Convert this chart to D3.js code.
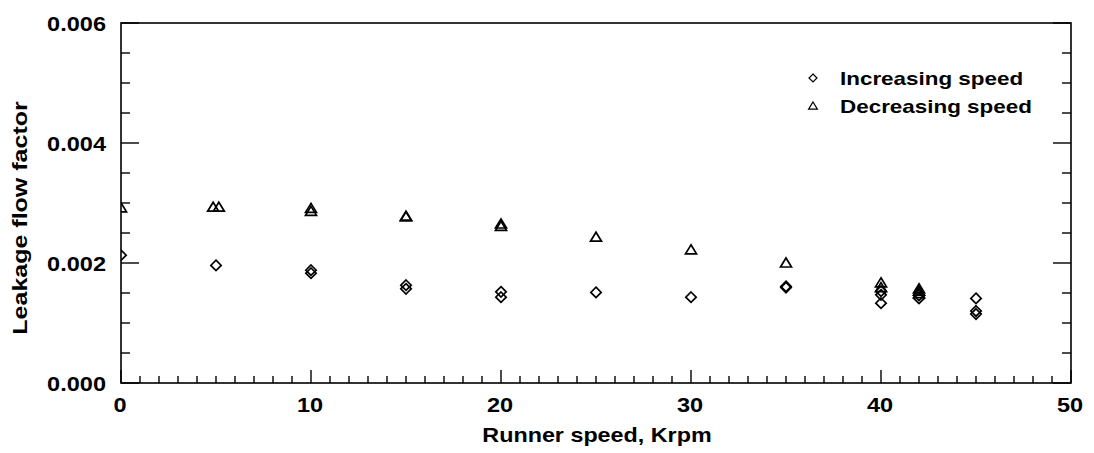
<!DOCTYPE html>
<html>
<head>
<meta charset="utf-8">
<script src="https://cdn.jsdelivr.net/npm/d3@7"></script>
<style>
  body { margin: 0; background: #fff; }
  text { font-family: "Liberation Sans", Arial, Helvetica, sans-serif; font-weight: bold; fill: #000; }
</style>
</head>
<body>
<script>
// increasing runner speed (diamonds)
var incSpeed  = [0, 5, 10, 10, 15, 15, 20, 20, 25, 30, 35, 35, 40, 40, 40, 42, 42, 45, 45, 45];
var incFactor = [0.00213, 0.00196, 0.00188, 0.00183, 0.00163, 0.00157, 0.00152, 0.00143, 0.00151, 0.00143,
                 0.00161, 0.00159, 0.00153, 0.00147, 0.00133, 0.00146, 0.00141, 0.00141, 0.00120, 0.00115];
// decreasing runner speed (triangles)
var decSpeed  = [0, 4.85, 5.15, 10, 10, 15, 15, 20, 20, 25, 30, 35, 40, 40, 42, 42, 42];
var decFactor = [0.00292, 0.00293, 0.00293, 0.00291, 0.00286, 0.00278, 0.00277, 0.00265, 0.00261,
                 0.00243, 0.00222, 0.00200, 0.00167, 0.00159, 0.00157, 0.00153, 0.00149];

var xTicks = [0, 10, 20, 30, 40, 50];
var yTicks = [0, 0.002, 0.004, 0.006];
var seriesNames = ["Increasing speed", "Decreasing speed"];

var width = 1094, height = 453;
var margin = {left: 121, right: 23, top: 23, bottom: 70};

var x = d3.scaleLinear().domain([0, 50]).range([margin.left, width - margin.right]);
var y = d3.scaleLinear().domain([0, 0.006]).range([height - margin.bottom, margin.top]);

var svg = d3.select("body").append("svg")
    .attr("width", width)
    .attr("height", height);

function stretch(sel, k) {
    sel.each(function() {
        var w = this.getComputedTextLength();
        d3.select(this).attr("textLength", w * k).attr("lengthAdjust", "spacingAndGlyphs");
    });
}

svg.append("clipPath").attr("id", "plot")
  .append("rect")
    .attr("x", x(0)).attr("y", y(0.006))
    .attr("width", x(50) - x(0)).attr("height", y(0) - y(0.006));

// inward ticks: left / right (major 18px, minor 9px), bottom (major 13px, minor 7px)
var yMinor = d3.range(0, 0.0060001, 0.0005);
var xMinor = d3.range(0, 51, 1);

var leftAxis = d3.axisLeft(y).tickValues(yMinor).tickFormat("")
    .tickSize(0);
svg.append("g").attr("transform", "translate(" + x(0) + ",0)").call(leftAxis)
    .call(function(g) { g.select(".domain").remove(); });

var ticks = svg.append("g").attr("stroke", "#000").attr("stroke-width", 1.4);
ticks.selectAll(".yl").data(yMinor).enter().append("line")
    .attr("x1", x(0)).attr("x2", function(d, i) { return x(0) + (i % 4 === 0 ? 18 : 9); })
    .attr("y1", function(d) { return y(d); }).attr("y2", function(d) { return y(d); });
ticks.selectAll(".yr").data(yMinor).enter().append("line")
    .attr("x1", x(50)).attr("x2", function(d, i) { return x(50) - (i % 4 === 0 ? 18 : 9); })
    .attr("y1", function(d) { return y(d); }).attr("y2", function(d) { return y(d); });
ticks.selectAll(".xb").data(xMinor).enter().append("line")
    .attr("y1", y(0)).attr("y2", function(d) { return y(0) - (d % 10 === 0 ? 13 : 7); })
    .attr("x1", function(d) { return x(d); }).attr("x2", function(d) { return x(d); });

// frame
svg.append("rect")
    .attr("x", x(0)).attr("y", y(0.006))
    .attr("width", x(50) - x(0)).attr("height", y(0) - y(0.006))
    .attr("fill", "none").attr("stroke", "#000").attr("stroke-width", 1.6);

// tick labels
var yl = svg.append("g").selectAll("text").data(yTicks).enter().append("text")
    .attr("x", x(0) - 15)
    .attr("y", function(d) { return y(d) + 7.5; })
    .attr("text-anchor", "end")
    .attr("font-size", 21)
    .text(d3.format(".3f"));
stretch(yl, 1.12);

var xl = svg.append("g").selectAll("text").data(xTicks).enter().append("text")
    .attr("x", function(d) { return x(d) - 1; })
    .attr("y", y(0) + 29)
    .attr("text-anchor", "middle")
    .attr("font-size", 21)
    .text(function(d) { return d; });
stretch(xl, 1.12);

// axis titles
var xt = svg.append("text")
    .attr("x", (x(0) + x(50)) / 2 + 1)
    .attr("y", 442)
    .attr("text-anchor", "middle")
    .attr("font-size", 21)
    .text("Runner speed, Krpm");
stretch(xt, 1.11);

var yt = svg.append("text")
    .attr("transform", "translate(27," + 218 + ") rotate(-90)")
    .attr("text-anchor", "middle")
    .attr("font-size", 20)
    .text("Leakage flow factor");
stretch(yt, 1.25);

// markers
function diamond(cx, cy, r) {
    return "M" + cx + "," + (cy - r) + "L" + (cx + r) + "," + cy + "L" + cx + "," + (cy + r) + "L" + (cx - r) + "," + cy + "Z";
}
function triangle(cx, cy, r) {
    return "M" + cx + "," + (cy - r) + "L" + (cx + r * 1.1) + "," + (cy + r * 0.8) + "L" + (cx - r * 1.1) + "," + (cy + r * 0.8) + "Z";
}

var pts = svg.append("g").attr("clip-path", "url(#plot)")
    .attr("fill", "none").attr("stroke", "#000").attr("stroke-width", 1.7);

pts.selectAll(".inc").data(incSpeed).enter().append("path")
    .attr("d", function(d, i) { return diamond(x(d), y(incFactor[i]), 5.2); });

pts.selectAll(".dec").data(decSpeed).enter().append("path")
    .attr("d", function(d, i) { return triangle(x(d), y(decFactor[i]), 5); });

// legend
var legend = svg.append("g");
legend.append("path").attr("d", diamond(813, 78, 4))
    .attr("fill", "none").attr("stroke", "#000").attr("stroke-width", 1.2);
legend.append("path").attr("d", triangle(813, 106, 4))
    .attr("fill", "none").attr("stroke", "#000").attr("stroke-width", 1.2);
var lt = legend.selectAll("text").data(seriesNames).enter().append("text")
    .attr("x", 840)
    .attr("y", function(d, i) { return 85 + i * 27.5; })
    .attr("font-size", 19)
    .text(function(d) { return d; });
stretch(lt, 1.18);
</script>
</body>
</html>
